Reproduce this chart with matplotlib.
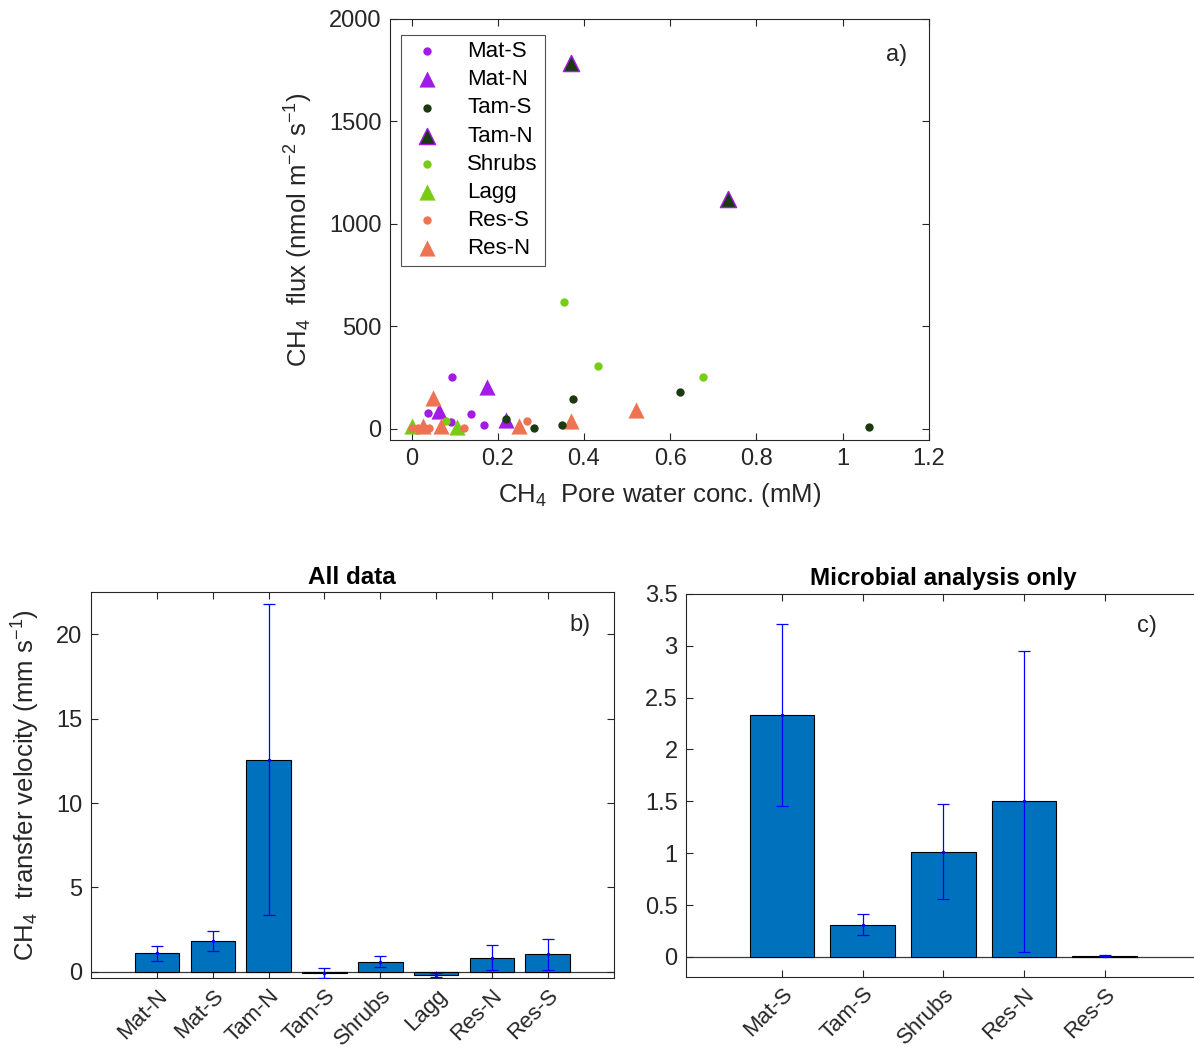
import numpy as np
import matplotlib.pyplot as plt
from matplotlib.ticker import FuncFormatter

plt.rcParams['font.family'] = ['Liberation Sans', 'DejaVu Sans']
plt.rcParams['mathtext.fontset'] = 'custom'
plt.rcParams['mathtext.rm'] = 'Liberation Sans'
plt.rcParams['mathtext.it'] = 'Liberation Sans'

# =========================
# a) pore water conc. vs flux
mat_s_x = [0.095, 0.039, 0.137, 0.092, 0.169]
mat_s_y = [255, 79, 71, 31, 19]
mat_n_x = [0.174, 0.064, 0.220]
mat_n_y = [206, 89, 44]
tam_s_x = [0.375, 0.623, 1.061, 0.283, 0.350, 0.220]
tam_s_y = [143, 178, 8, 3, 19, 46]
tam_n_x = [0.371, 0.734]
tam_n_y = [1783, 1123]
shrubs_x = [0.354, 0.432, 0.677, 0.080]
shrubs_y = [620, 304, 251, 36]
lagg_x = [0.001, 0.105]
lagg_y = [13, 8]
res_s_x = [0.268, 0.122, 0.000, 0.015, 0.030, 0.040]
res_s_y = [40, 5, 3, 3, 3, 3]
res_n_x = [0.049, 0.521, 0.369, 0.249, 0.0695, 0.026]
res_n_y = [149, 94, 40, 13, 13, 13]

# b) all data
cats_b = ["Mat-N", "Mat-S", "Tam-N", "Tam-S", "Shrubs", "Lagg", "Res-N", "Res-S"]
vals_b = [1.09, 1.82, 12.58, -0.07, 0.59, -0.20, 0.83, 1.03]
err_b = [0.45, 0.60, 9.25, 0.29, 0.33, 0.10, 0.74, 0.92]

# c) microbial analysis only
cats_c = ["Mat-S", "Tam-S", "Shrubs", "Res-N", "Res-S"]
vals_c = [2.33, 0.31, 1.015, 1.50, 0.01]
err_c = [0.88, 0.10, 0.456, 1.45, 0.005]

purple = "#A21BE6"
dkgreen = "#1C3A10"
ltgreen = "#78CC14"
orange = "#EE7352"
bar_blue = "#0072BD"
txt = "#262626"

TICK = 17
LAB = 18.5

fig = plt.figure(figsize=(11.94, 10.52), dpi=100)

def style(ax):
    ax.tick_params(direction="in", top=True, right=True, labelsize=TICK,
                   colors=txt, length=5, width=0.8, pad=6)
    for s in ax.spines.values():
        s.set_color("#262626")
        s.set_linewidth(0.8)

# =========================
ax1 = fig.add_axes([0.3266, 0.5817, 0.4514, 0.4003])
ds = 36
ts = 135
ax1.scatter(mat_s_x, mat_s_y, s=ds, c=purple, lw=0, label="Mat-S", zorder=3)
ax1.scatter(mat_n_x, mat_n_y, s=ts, c=purple, marker="^", lw=0, label="Mat-N", zorder=3)
ax1.scatter(tam_s_x, tam_s_y, s=ds, c=dkgreen, lw=0, label="Tam-S", zorder=4)
ax1.scatter(tam_n_x, tam_n_y, s=ts, c=dkgreen, marker="^", edgecolors=purple,
            lw=1.0, label="Tam-N", zorder=3)
ax1.scatter(shrubs_x, shrubs_y, s=ds, c=ltgreen, lw=0, label="Shrubs", zorder=3)
ax1.scatter(lagg_x, lagg_y, s=ts, c=ltgreen, marker="^", lw=0, label="Lagg", zorder=3)
ax1.scatter(res_s_x, res_s_y, s=ds, c=orange, lw=0, label="Res-S", zorder=3)
ax1.scatter(res_n_x, res_n_y, s=ts, c=orange, marker="^", lw=0, label="Res-N", zorder=3)
ax1.set_xlim(-0.05, 1.2)
ax1.set_ylim(-55, 2000)
ax1.set_xticks(np.arange(0, 1.21, 0.2))
ax1.set_yticks(np.arange(0, 2001, 500))
ax1.xaxis.set_major_formatter(FuncFormatter(lambda v, p: f"{v:g}"))
style(ax1)
ax1.set_xlabel("CH$_4$  Pore water conc. (mM)", fontsize=LAB, color=txt, labelpad=8)
ax1.set_ylabel("CH$_4$  flux (nmol m$^{-2}$ s$^{-1}$)", fontsize=LAB, color=txt, labelpad=10)
leg = ax1.legend(loc="upper left", fontsize=16, frameon=True, fancybox=False,
                 edgecolor="#262626", borderpad=0.3, labelspacing=0.32,
                 handletextpad=0.9, handlelength=1.8, bbox_to_anchor=(0.02, 0.963),
                 borderaxespad=0)
leg.get_frame().set_linewidth(0.8)
ax1.text(0.96, 0.9, "a)", transform=ax1.transAxes, fontsize=TICK, color=txt, ha="right")

# =========================
ax2 = fig.add_axes([0.0759, 0.07, 0.4384, 0.367])
xb = np.arange(len(cats_b))
ax2.axhline(0, color="#3a3a3a", lw=0.9, zorder=1)
ax2.bar(xb, vals_b, width=0.8, color=bar_blue, edgecolor="black", lw=0.8, zorder=2)
ax2.errorbar(xb, vals_b, yerr=err_b, fmt=".", color="blue", ms=3, elinewidth=0.9,
             capsize=4, capthick=0.9, zorder=3)
ax2.set_xlim(-1.19, len(cats_b) - 1 + 1.19)
ax2.set_ylim(-0.4, 22.5)
ax2.set_xticks(xb)
ax2.set_xticklabels(cats_b, rotation=45, ha="right", rotation_mode="anchor")
ax2.set_yticks([0, 5, 10, 15, 20])
style(ax2)
ax2.tick_params(axis="x", labelsize=16, pad=5)
ax2.set_ylabel("CH$_4$  transfer velocity (mm s$^{-1}$)", fontsize=LAB, color=txt, labelpad=10)
ax2.set_title("All data", fontsize=17.5, fontweight="bold", pad=6)
ax2.text(0.955, 0.9, "b)", transform=ax2.transAxes, fontsize=TICK, color=txt, ha="right")

# =========================
ax3 = fig.add_axes([0.5745, 0.0716, 0.431, 0.364])
xc = np.arange(len(cats_c))
ax3.axhline(0, color="#3a3a3a", lw=0.9, zorder=1)
ax3.bar(xc, vals_c, width=0.8, color=bar_blue, edgecolor="black", lw=0.8, zorder=2)
ax3.errorbar(xc, vals_c, yerr=err_c, fmt=".", color="blue", ms=3, elinewidth=0.9,
             capsize=4, capthick=0.9, zorder=3)
ax3.set_xlim(-1.19, len(cats_c) - 1 + 1.19)
ax3.set_ylim(-0.19, 3.5)
ax3.set_xticks(xc)
ax3.set_xticklabels(cats_c, rotation=45, ha="right", rotation_mode="anchor")
ax3.set_yticks(np.arange(0, 3.51, 0.5))
ax3.yaxis.set_major_formatter(FuncFormatter(lambda v, p: f"{v:g}"))
style(ax3)
ax3.tick_params(axis="x", labelsize=16, pad=5)
ax3.set_title("Microbial analysis only", fontsize=17.5, fontweight="bold", pad=6)
ax3.text(0.915, 0.9, "c)", transform=ax3.transAxes, fontsize=TICK, color=txt, ha="right")

fig.savefig("out.png", dpi=100)
